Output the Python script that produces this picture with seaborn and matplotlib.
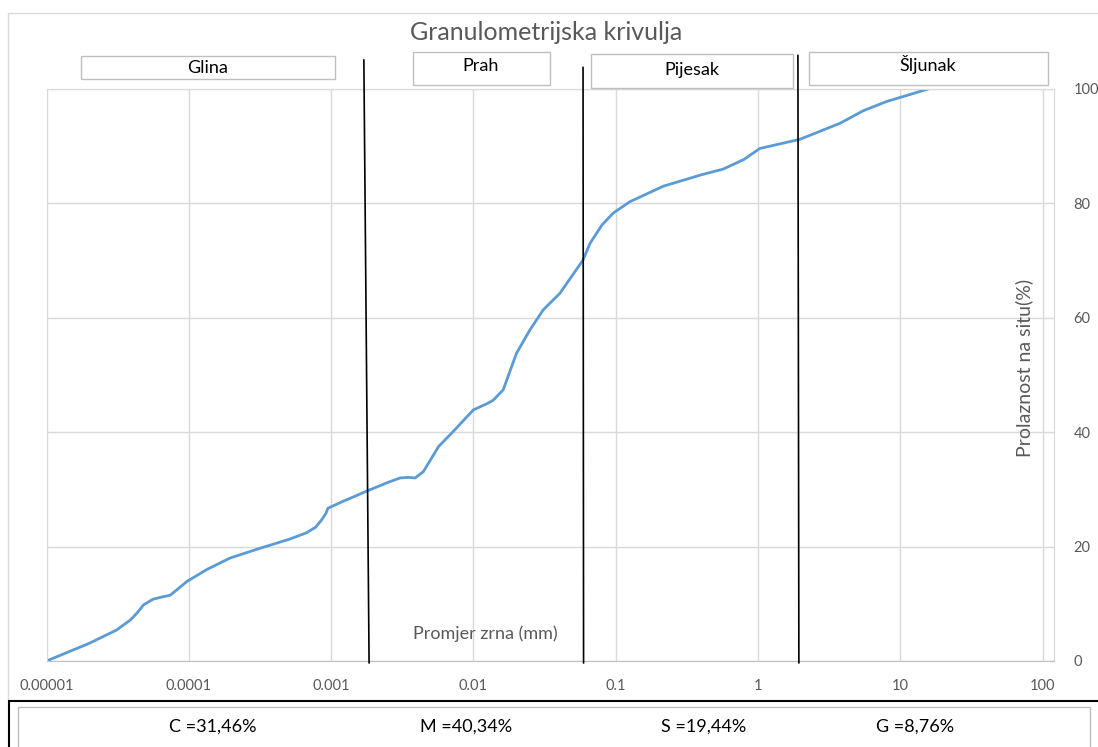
import numpy as np
import pandas as pd
import seaborn as sns
import matplotlib as mpl
import matplotlib.pyplot as plt
from matplotlib.patches import Rectangle
from matplotlib.ticker import LogLocator, FixedLocator, NullFormatter
mpl.use('Agg')

# grain size [mm] and passing [%]
diameter = [1e-5, 2.0e-5, 3.1e-5, 3.9e-5, 4.4e-5, 4.8e-5, 5.6e-5, 6.5e-5, 7.4e-5, 8.2e-5, 9.7e-5,
            1.34e-4, 1.95e-4, 3.16e-4, 5.1e-4, 6.7e-4, 7.8e-4, 8.6e-4, 9.2e-4, 9.5e-4, 1.16e-3,
            1.78e-3, 2.5e-3, 3.05e-3, 3.5e-3, 3.9e-3, 4.45e-3, 5.7e-3, 7.2e-3, 0.010, 0.0125, 0.0138,
            0.0162, 0.0201, 0.025, 0.031, 0.0406, 0.059, 0.066, 0.080, 0.096, 0.126,
            0.216, 0.40, 0.57, 0.80, 1.03, 1.97, 3.77, 5.5, 8.0, 15.7]
passing = [0, 3.1, 5.4, 7.2, 8.6, 9.8, 10.8, 11.2, 11.5, 12.4, 13.9,
           16.0, 18.0, 19.7, 21.3, 22.4, 23.4, 24.7, 25.8, 26.7, 27.7,
           29.7, 31.2, 32.0, 32.1, 32.0, 33.1, 37.5, 40.1, 43.9, 45.0, 45.6,
           47.4, 53.8, 57.9, 61.4, 64.3, 70.1, 73.0, 76.2, 78.3, 80.3,
           83.0, 85.0, 86.0, 87.7, 89.6, 91.2, 94.0, 96.2, 97.8, 100.0]

# hand drawn boundary lines (top / bottom x), clay|silt|sand|gravel
bound_top = [0.0017, 0.059, 1.91]
bound_bot = [0.00185, 0.0595, 1.94]
bound_ytop = [105.1, 103.8, 105.9]

fractions = ['Glina', 'Prah', 'Pijesak', 'Šljunak']
shares = ['C =31,46%', 'M =40,34%', 'S =19,44%', 'G =8,76%']

x_ticks = [1e-5, 1e-4, 1e-3, 1e-2, 1e-1, 1, 10, 100]
x_ticklabels = ['0.00001', '0.0001', '0.001', '0.01', '0.1', '1', '10', '100']
y_ticks = [0, 20, 40, 60, 80, 100]

W, H = 1098, 747
def fx(x): return x / W
def fy(y): return 1 - y / H

sns.set_style('white')
plt.rcParams['font.family'] = ['Lato', 'DejaVu Sans']
grey_txt = '#595959'
grid_c = '#d9d9d9'

fig = plt.figure(figsize=(W / 100, H / 100), dpi=100)
ax = fig.add_axes([fx(46.5), fy(661), fx(1054) - fx(46.5), fy(89) - fy(661)])

df = pd.DataFrame({'d': diameter, 'p': passing})
sns.lineplot(data=df, x='d', y='p', ax=ax, color='#5b9bd5', lw=2, sort=False)

ax.set_xscale('log')
ax.set_xlim(1e-5, 10 ** (2 + 11.5 / 142.3))
ax.set_ylim(0, 100)

ax.xaxis.set_major_locator(FixedLocator(x_ticks))
ax.set_xticklabels(x_ticklabels)
ax.xaxis.set_minor_locator(LogLocator(base=10, subs=np.arange(2, 10)))
ax.xaxis.set_minor_formatter(NullFormatter())
ax.set_yticks(y_ticks)
ax.yaxis.tick_right()
ax.grid(True, which='major', color=grid_c, lw=1)
ax.tick_params(axis='x', which='major', length=0, pad=13, labelsize=10.5, labelcolor=grey_txt)
ax.tick_params(axis='x', which='minor', direction='in', length=4, color='#bfbfbf', width=1)
ax.tick_params(axis='y', length=0, pad=14, labelsize=10.5, labelcolor=grey_txt)
for side in ['top', 'left', 'right']:
    ax.spines[side].set_color(grid_c)
ax.spines['bottom'].set_color('#bfbfbf')

ax.set_xlabel('Promjer zrna (mm)', color=grey_txt, fontsize=13)
ax.xaxis.set_label_coords(0.436, 0.062)
ax.set_ylabel('Prolaznost na situ(%)', color=grey_txt, fontsize=14)
ax.yaxis.set_label_position('right')
ax.yaxis.set_label_coords(0.962, 0.512)
ax.yaxis.label.set_rotation(90)

# boundary lines
for xt, xb, yt in zip(bound_top, bound_bot, bound_ytop):
    ax.plot([xt, xb], [yt, -0.35], color='black', lw=1.2, clip_on=False, zorder=5)

# title
fig.text(fx(546), fy(33), 'Granulometrijska krivulja', ha='center', va='center',
         fontsize=18, color=grey_txt)

# fraction boxes (x0, y0, x1, y1) in pixels, text centre
boxes = [(81, 56, 335, 79), (413, 52, 550, 85), (591, 54, 793, 88), (809, 52, 1048, 85)]
text_pos = [(208, 68), (481, 66), (692, 70), (928, 64)]
for (x0, y0, x1, y1), (tx, ty), name in zip(boxes, text_pos, fractions):
    fig.add_artist(Rectangle((fx(x0), fy(y1)), fx(x1) - fx(x0), fy(y0) - fy(y1),
                             transform=fig.transFigure, fill=False, ec='#bfbfbf', lw=1))
    fig.text(fx(tx), fy(ty), name, ha='center', va='center', fontsize=13, color='black')

# outer chart border
fig.add_artist(Rectangle((fx(8), fy(701)), fx(1200) - fx(8), fy(13) - fy(701),
                         transform=fig.transFigure, fill=False, ec=grid_c, lw=1))

# bottom share box
fig.add_artist(Rectangle((fx(9), fy(760)), fx(1200) - fx(9), fy(701) - fy(760),
                         transform=fig.transFigure, fill=True, fc='white', ec='black', lw=1.5))
fig.add_artist(Rectangle((fx(18), fy(760)), fx(1090) - fx(18), fy(707) - fy(760),
                         transform=fig.transFigure, fill=False, ec='#bfbfbf', lw=1))
for tx, s in zip([213, 466, 704, 915], shares):
    fig.text(fx(tx), fy(727), s, ha='center', va='center', fontsize=13, color='black')

fig.savefig('out.png', dpi=100)
